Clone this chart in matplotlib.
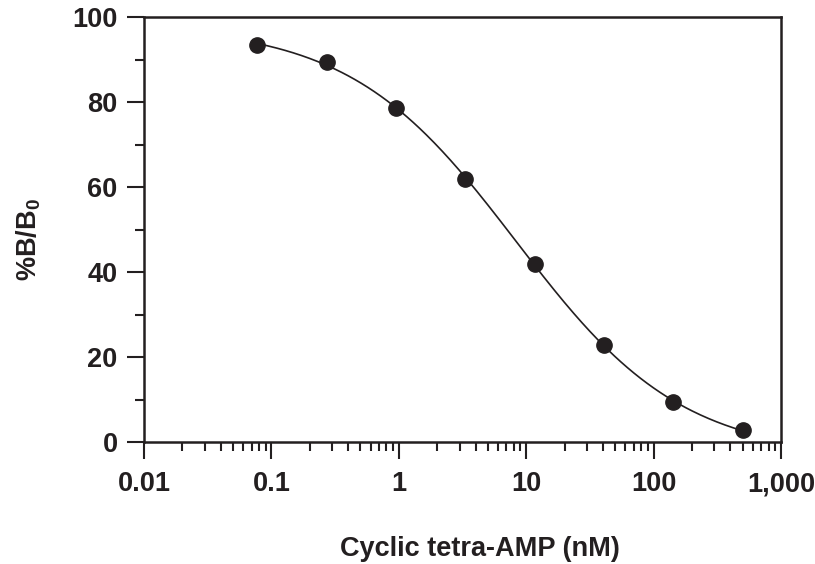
import numpy as np
import matplotlib
matplotlib.use("Agg")
import matplotlib.pyplot as plt
from matplotlib.ticker import FixedLocator, FuncFormatter, LogLocator, MultipleLocator

# ---- data ----
conc_nM = [0.0777, 0.272, 0.952, 3.33, 11.66, 40.8, 142.9, 500.0]
pct_b_b0 = [93.3, 89.3, 78.5, 62.0, 41.8, 22.8, 9.3, 2.8]

x_ticks = [0.01, 0.1, 1, 10, 100, 1000]
y_ticks = [0, 20, 40, 60, 80, 100]

INK = "#231f20"
FS = 19.5

plt.rcParams["font.family"] = ["Liberation Sans", "DejaVu Sans"]
plt.rcParams["font.weight"] = "bold"
plt.rcParams["mathtext.fontset"] = "custom"
plt.rcParams["mathtext.rm"] = "Liberation Sans:bold"
plt.rcParams["mathtext.it"] = "Liberation Sans:bold"
plt.rcParams["mathtext.default"] = "rm"


def fit_4pl(x, y):
    """4-parameter logistic: grid over EC50 and slope, linear lstsq for top/bottom."""
    x = np.asarray(x, float)
    y = np.asarray(y, float)
    best = None
    for lc in np.linspace(-0.5, 2.0, 251):
        for h in np.linspace(0.4, 1.4, 201):
            f = 1.0 / (1.0 + (x / 10**lc) ** h)
            A = np.column_stack([np.ones_like(f), f])
            coef, *_ = np.linalg.lstsq(A, y, rcond=None)
            err = np.sum((A @ coef - y) ** 2)
            if best is None or err < best[0]:
                best = (err, coef[0], coef[0] + coef[1], 10**lc, h)
    return best[1:]


bottom, top, ec50, slope = fit_4pl(conc_nM, pct_b_b0)
xs = np.logspace(np.log10(conc_nM[0]), np.log10(conc_nM[-1]), 300)
ys = bottom + (top - bottom) / (1.0 + (xs / ec50) ** slope)

fig = plt.figure(figsize=(8.15, 5.64), dpi=100)
ax = fig.add_axes([144 / 815, 1 - 442 / 564, (781 - 144) / 815, (442 - 17) / 564])

ax.plot(xs, ys, color=INK, lw=1.2, zorder=2)
ax.plot(conc_nM, pct_b_b0, "o", color=INK, ms=11, zorder=3)

ax.set_xscale("log")
ax.set_xlim(0.01, 1000)
ax.set_ylim(0, 100)
ax.xaxis.set_major_locator(FixedLocator(x_ticks))
ax.xaxis.set_minor_locator(LogLocator(base=10, subs=np.arange(2, 10)))
ax.xaxis.set_major_formatter(FuncFormatter(lambda v, p: f"{v:,.0f}" if v >= 1 else f"{v:g}"))
ax.yaxis.set_major_locator(FixedLocator(y_ticks))
ax.yaxis.set_minor_locator(MultipleLocator(10))

for s in ax.spines.values():
    s.set_linewidth(1.8)
    s.set_color(INK)
ax.tick_params(which="major", direction="out", length=12, width=1.5, color=INK,
               labelsize=FS, labelcolor=INK)
ax.tick_params(which="minor", direction="out", length=6.5, width=1.5, color=INK)
ax.tick_params(axis="x", which="major", pad=9)
ax.tick_params(axis="y", which="major", pad=7)
for lbl in ax.get_xticklabels() + ax.get_yticklabels():
    lbl.set_fontweight("bold")

fig.text(480 / 815, 1 - 549 / 564, "Cyclic tetra-AMP (nM)", ha="center", va="center",
         fontsize=FS, fontweight="bold", color=INK)
fig.text(29 / 815, 1 - 240 / 564, "%B/B$_0$", ha="center", va="center", rotation=90,
         fontsize=FS, fontweight="bold", color=INK)

fig.savefig("out.png", dpi=100)
